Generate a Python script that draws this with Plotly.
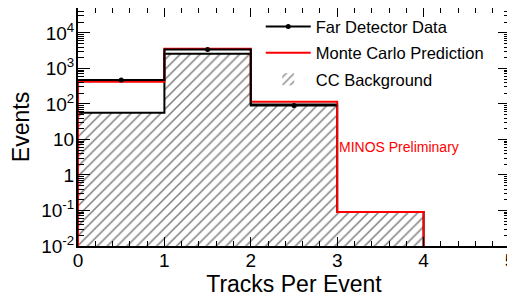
import plotly.graph_objects as go

# ---- data ----
bin_edges = [0, 1, 2, 3, 4, 5]
bin_centers = [0.5, 1.5, 2.5, 3.5, 4.5]
data_counts = [470, 3400, 90, 0, 0]          # Far Detector Data
mc_counts = [422, 3560, 115, 0.09, 0]        # Monte Carlo Prediction
cc_background = [56, 2580, 97, 0.09, 0]      # CC Background
y_tickvals = [1e-2, 1e-1, 1, 10, 1e2, 1e3, 1e4]
y_ticktext = ["10<sup>-2</sup>", "10<sup>-1</sup>", "1", "10",
              "10<sup>2</sup>", "10<sup>3</sup>", "10<sup>4</sup>"]
x_tickvals = [0, 1, 2, 3, 4, 5]
x_ticktext = ["0", "1", "2", "3", "4", "5"]
x_minor = [round(i * 0.2, 1) for i in range(26) if i % 5 != 0]
y_minor = [m * 10 ** k for k in range(-2, 5) for m in range(2, 10)]

X_RANGE = [0, 5]
Y_RANGE = [-2, 4.70]
FLOOR = 1e-3  # below visible range, used to draw zero-content bins down to the axis


def step_xy(edges, vals, n_bins=None):
    n = len(vals) if n_bins is None else n_bins
    xs, ys = [edges[0]], [FLOOR]
    for i in range(n):
        v = vals[i] if vals[i] > 0 else FLOOR
        xs += [edges[i], edges[i + 1]]
        ys += [v, v]
    return xs, ys


FONT = "Liberation Sans, Arial, Helvetica, sans-serif"

fig = go.Figure()

# hatched background histogram
fig.add_trace(go.Bar(
    x=bin_centers, y=[v if v > 0 else None for v in cc_background], width=1,
    marker=dict(color="white", line=dict(width=0),
                pattern=dict(shape="/", fgcolor="black", bgcolor="white",
                             size=7, solidity=0.22)),
    name="CC Background", legendgroup="c", legendrank=3, showlegend=True,
))
bx, by = step_xy(bin_edges, cc_background)
fig.add_trace(go.Scatter(x=bx, y=by, mode="lines", line=dict(color="black", width=2),
                         showlegend=False, hoverinfo="skip"))

# MC prediction
mx, my = step_xy(bin_edges, mc_counts)
fig.add_trace(go.Scatter(x=mx, y=my, mode="lines", line=dict(color="#ff0000", width=2),
                         name="Monte Carlo Prediction", legendgroup="b", legendrank=2))

# data
nz = sum(1 for v in data_counts if v > 0)
dx, dy = step_xy(bin_edges, data_counts, n_bins=nz)
fig.add_trace(go.Scatter(x=dx[1:], y=dy[1:], mode="lines", line=dict(color="black", width=2),
                         showlegend=False, hoverinfo="skip"))
fig.add_trace(go.Scatter(
    x=[c for c, v in zip(bin_centers, data_counts) if v > 0],
    y=[v for v in data_counts if v > 0],
    mode="markers", marker=dict(color="black", size=5),
    showlegend=False, hoverinfo="skip",
))
fig.add_trace(go.Scatter(x=[None], y=[None], mode="lines+markers",
                         line=dict(color="black", width=2), marker=dict(color="black", size=5),
                         name="Far Detector Data", legendgroup="a", legendrank=1))

# invisible trace to host the minor-tick overlay axes
fig.add_trace(go.Scatter(x=[None], y=[None], xaxis="x2", yaxis="y2",
                         showlegend=False, hoverinfo="skip"))

# The page body has a default 8px margin, so the figure is sized to fit the
# 515x298 window with that offset.
fig.update_layout(
    width=507, height=290,
    margin=dict(l=70, r=5, t=0, b=52),
    paper_bgcolor="white", plot_bgcolor="white",
    bargap=0, barmode="overlay",
    font=dict(family=FONT, color="black"),
    showlegend=True,
    legend=dict(x=0.423, y=0.995, xanchor="left", yanchor="top",
                bgcolor="rgba(0,0,0,0)", font=dict(size=16.5, family=FONT),
                traceorder="grouped", tracegroupgap=2, itemwidth=45),
    xaxis=dict(range=X_RANGE, tickvals=x_tickvals, ticktext=x_ticktext, automargin=False,
               ticks="inside", ticklen=9, tickwidth=1, tickcolor="black",
               ticklabelstandoff=-4, ticklabeloverflow="allow",
               showline=True, linecolor="black", linewidth=2, mirror="ticks",
               showgrid=False, zeroline=False,
               tickfont=dict(size=19, family=FONT),
               title=dict(text="Tracks Per Event", font=dict(size=23, family=FONT), standoff=2)),
    yaxis=dict(type="log", range=Y_RANGE, tickvals=y_tickvals, ticktext=y_ticktext, automargin=False,
               ticks="inside", ticklen=12, tickwidth=1, tickcolor="black",
               ticklabelstandoff=-2, ticklabeloverflow="allow",
               showline=True, linecolor="black", linewidth=2, mirror="ticks",
               showgrid=False, zeroline=False,
               tickfont=dict(size=19, family=FONT),
               title=dict(text="Events", font=dict(size=23, family=FONT), standoff=8)),
    xaxis2=dict(range=X_RANGE, overlaying="x", anchor="y2", side="bottom", automargin=False,
                tickvals=x_minor, showticklabels=False,
                ticks="inside", ticklen=5, tickwidth=1, tickcolor="black",
                showline=False, mirror="ticks", showgrid=False, zeroline=False),
    yaxis2=dict(type="log", range=Y_RANGE, overlaying="y", anchor="x2", side="left", automargin=False,
                tickvals=y_minor, showticklabels=False,
                ticks="inside", ticklen=6, tickwidth=1, tickcolor="black",
                showline=False, mirror="ticks", showgrid=False, zeroline=False),
)

fig.add_annotation(x=3.0, y=1, xref="x", yref="y", yshift=-8,
                   text="MINOS Preliminary", showarrow=False,
                   xanchor="left", yanchor="middle",
                   font=dict(size=14, color="#ff0000", family=FONT))

fig.write_html("out.html")
